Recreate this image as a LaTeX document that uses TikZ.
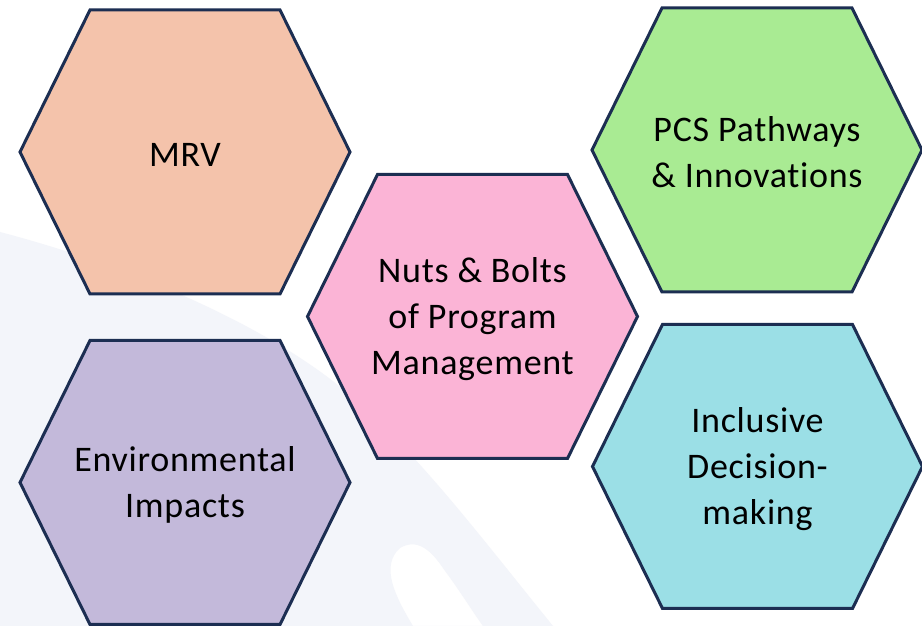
\documentclass[tikz,border=0pt]{standalone}
\usepackage{fontspec}
\setmainfont[Ligatures=NoCommon, LetterSpace=2]{Carlito}
\definecolor{navy}{HTML}{1C2E52}
\definecolor{mrvfill}{HTML}{F4C3AB}
\definecolor{envfill}{HTML}{C3B9DA}
\definecolor{corefill}{HTML}{FBB4D6}
\definecolor{pcsfill}{HTML}{A9EB93}
\definecolor{inclfill}{HTML}{9BDFE6}
\definecolor{bandfill}{HTML}{F3F5FA}
% hexagon cell: centre x, centre y, fill colour
\newcommand\hexcell[3]{%
  \begin{scope}[shift={(#1,#2)}]
    \draw[hexline, fill=#3] (-165,0) -- (-95,142) -- (95,142) -- (165,0)
      -- (95,-142) -- (-95,-142) -- cycle;
  \end{scope}}
\begin{document}
\begin{tikzpicture}[x=1pt,y=1pt,
  hexline/.style={draw=navy, line width=3pt, line join=miter},
  celltext/.style={align=center, font=\fontsize{36}{46}\selectfont, text=black,
    inner sep=0pt, yshift=-2.5pt}]
\useasboundingbox (0,0) rectangle (922,626);
\fill[white] (0,0) rectangle (922,626);
% soft background swoosh with a white leaf cut out of it
\fill[bandfill, even odd rule]
  (0,394) .. controls (130,360) and (270,300) .. (350,231)
  .. controls (420,170) and (480,90) .. (553,0) -- (0,0) -- cycle
  (413,0) .. controls (395,30) and (380,60) .. (400,78)
  .. controls (420,90) and (435,70) .. (445,55)
  .. controls (460,35) and (472,15) .. (483,0) -- cycle;
% the five cells
\hexcell{185}{474}{mrvfill}
\hexcell{185}{143.5}{envfill}
\hexcell{472.5}{309.5}{corefill}
\hexcell{757}{476}{pcsfill}
\hexcell{757.5}{159.5}{inclfill}
% cell captions
\node[celltext] (mrv) at (185,474) {MRV};
\node[celltext] (env) at (185,143.5) {Environmental\\Impacts};
\node[celltext] (core) at (472.5,309.5) {Nuts \& Bolts\\of Program\\Management};
\node[celltext] (pcs) at (757,476) {PCS Pathways\\\& Innovations};
\node[celltext] (incl) at (757.5,159.5) {Inclusive\\Decision-\\making};
\end{tikzpicture}
\end{document}
